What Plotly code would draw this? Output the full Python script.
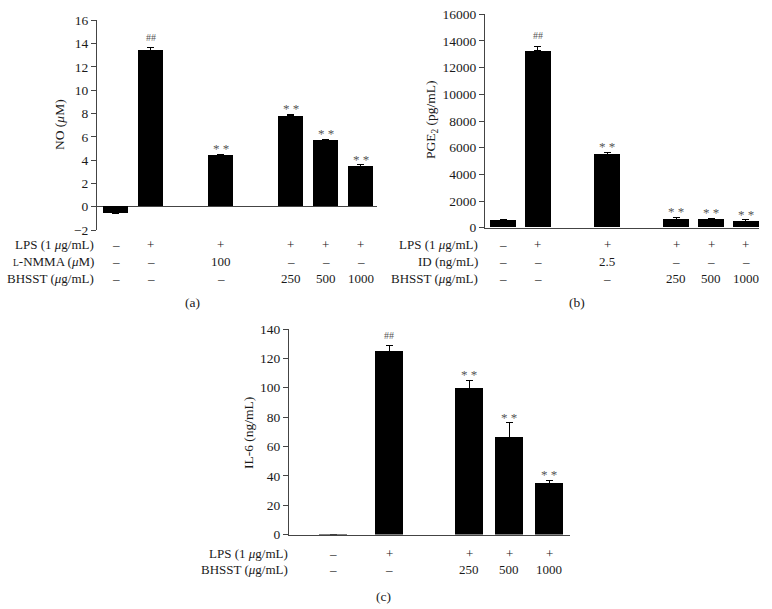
import plotly.graph_objects as go

# ---------------- data ----------------
a_values = [-0.6, 13.45, 4.4, 7.8, 5.67, 3.45]
a_errors = [0.05, 0.2, 0.12, 0.12, 0.1, 0.15]
a_marks = ["", "##", "**", "**", "**", "**"]
a_lps = ["–", "+", "+", "+", "+", "+"]
a_nmma = ["–", "–", "100", "–", "–", "–"]
a_bhsst = ["–", "–", "–", "250", "500", "1000"]

b_values = [580, 13250, 5475, 650, 630, 500]
b_errors = [70, 350, 200, 130, 70, 80]
b_marks = ["", "##", "**", "**", "**", "**"]
b_lps = ["–", "+", "+", "+", "+", "+"]
b_id = ["–", "–", "2.5", "–", "–", "–"]
b_bhsst = ["–", "–", "–", "250", "500", "1000"]

c_values = [0.3, 125, 99.5, 66.3, 34.8]
c_errors = [0, 3.5, 5.5, 9.8, 2.3]
c_marks = ["", "##", "**", "**", "**"]
c_lps = ["–", "+", "+", "+", "+"]
c_bhsst = ["–", "–", "250", "500", "1000"]

a_ticks = [-2, 0, 2, 4, 6, 8, 10, 12, 14, 16]
b_ticks = [0, 2000, 4000, 6000, 8000, 10000, 12000, 14000, 16000]
c_ticks = [0, 20, 40, 60, 80, 100, 120, 140]

# ---------------- layout helpers ----------------
W, H = 772, 609
FONT = "Liberation Serif, Times New Roman, serif"
AX = "#444444"
TXT = "#1a1a1a"
FS = 13
slots_ab = [0, 1, 3, 5, 6, 7]
slots_c = [0, 1.4, 3.4, 4.4, 5.4]


def px(x):
    return x / W


def py(y):
    return 1 - y / H


fig = go.Figure()


def add_bars(vals, errs, slots, xa, ya, width):
    fig.add_trace(go.Bar(
        x=slots, y=vals, width=width, xaxis=xa, yaxis=ya,
        marker=dict(color="black", line=dict(width=0)),
        error_y=dict(type="data", array=errs, arrayminus=[0] * len(errs),
                     symmetric=False, color="black", thickness=1, width=3.5),
        showlegend=False, hoverinfo="y",
    ))


add_bars(a_values, a_errors, slots_ab, "x", "y", 0.72)
add_bars(b_values, b_errors, slots_ab, "x2", "y2", 0.75)
add_bars(c_values, c_errors, slots_c, "x3", "y3", 0.72)

yax_common = dict(showline=True, linecolor=AX, linewidth=1, ticks="outside",
                  ticklen=5, tickcolor=AX, showgrid=False, automargin=False,
                  tickformat="d",
                  tickfont=dict(family=FONT, size=13.5, color=TXT))
xax_common = dict(showticklabels=False, ticks="", showgrid=False,
                  zeroline=False, automargin=False)

fig.update_layout(
    template="none",
    width=W, height=H, margin=dict(l=0, r=0, t=0, b=0, autoexpand=False),
    plot_bgcolor="white", paper_bgcolor="white", bargap=0,
    xaxis=dict(domain=[px(97), px(377)], range=[-0.53, 7.47], anchor="y",
               showline=False, **xax_common),
    yaxis=dict(domain=[py(230), py(20.3)], range=[-2, 16], anchor="x",
               tickvals=a_ticks, zeroline=True, zerolinecolor=AX,
               zerolinewidth=1, **yax_common),
    xaxis2=dict(domain=[px(485), px(759)], range=[-0.52, 7.38], anchor="y2",
                showline=True, linecolor=AX, linewidth=1, **xax_common),
    yaxis2=dict(domain=[py(227.7), py(14.3)], range=[0, 16000], anchor="x2",
                tickvals=b_ticks, zeroline=False, **yax_common),
    xaxis3=dict(domain=[px(289), px(570)], range=[-1.1, 5.925], anchor="y3",
                showline=True, linecolor=AX, linewidth=1, **xax_common),
    yaxis3=dict(domain=[py(534.5), py(329)], range=[0, 140], anchor="x3",
                tickvals=c_ticks, zeroline=False, **yax_common),
)

ann = []


def marks(vals, errs, labels, slots, xr, yr):
    for s, v, e, m in zip(slots, vals, errs, labels):
        if not m:
            continue
        hash_mark = m == "##"
        ann.append(dict(x=s, y=v + e, xref=xr, yref=yr,
                        text=m if hash_mark else "* *", showarrow=False,
                        yanchor="bottom", yshift=3 if hash_mark else -4,
                        font=dict(family=FONT, size=10 if hash_mark else 13,
                                  color="#555555")))


marks(a_values, a_errors, a_marks, slots_ab, "x", "y")
marks(b_values, b_errors, b_marks, slots_ab, "x2", "y2")
marks(c_values, c_errors, c_marks, slots_c, "x3", "y3")


def table(rows, labels, slots, xr, label_x, ys):
    for row, lab, yy in zip(rows, labels, ys):
        ann.append(dict(x=px(label_x), y=py(yy), xref="paper", yref="paper",
                        text=lab, showarrow=False, xanchor="right",
                        yanchor="middle",
                        font=dict(family=FONT, size=FS, color=TXT)))
        for s, t in zip(slots, row):
            ann.append(dict(x=s, y=py(yy), xref=xr, yref="paper", text=t,
                            showarrow=False, xanchor="center", yanchor="middle",
                            font=dict(family=FONT, size=FS, color=TXT)))


table([a_lps, a_nmma, a_bhsst],
      ["LPS (1 <i>μ</i>g/mL)", "<span style='font-size:9.5px'>L</span>-NMMA (<i>μ</i>M)",
       "BHSST (<i>μ</i>g/mL)"],
      slots_ab, "x", 96, [244.5, 261, 278])
table([b_lps, b_id, b_bhsst],
      ["LPS (1 <i>μ</i>g/mL)", "ID (ng/mL)", "BHSST (<i>μ</i>g/mL)"],
      slots_ab, "x2", 480, [244.5, 261, 278])
table([c_lps, c_bhsst],
      ["LPS (1 <i>μ</i>g/mL)", "BHSST (<i>μ</i>g/mL)"],
      slots_c, "x3", 290, [553, 569.5])

# axis titles
for txt, x, y in [("NO (<i>μ</i>M)", 60, 125),
                  ("PGE<sub>2</sub> (pg/mL)", 432, 120),
                  ("IL-6 (ng/mL)", 248, 433)]:
    ann.append(dict(x=px(x), y=py(y), xref="paper", yref="paper", text=txt,
                    textangle=-90, showarrow=False, xanchor="center",
                    yanchor="middle", font=dict(family=FONT, size=13.5, color=TXT)))

# panel labels
for txt, x, y in [("(a)", 192, 302), ("(b)", 577, 302), ("(c)", 383, 596)]:
    ann.append(dict(x=px(x), y=py(y), xref="paper", yref="paper", text=txt,
                    showarrow=False, xanchor="center", yanchor="middle",
                    font=dict(family=FONT, size=13.5, color=TXT)))

fig.update_layout(annotations=ann)
fig.write_html(
    "out.html",
    config={"displayModeBar": False},
    post_script="document.body.style.margin='0';document.body.style.overflow='hidden';",
)
